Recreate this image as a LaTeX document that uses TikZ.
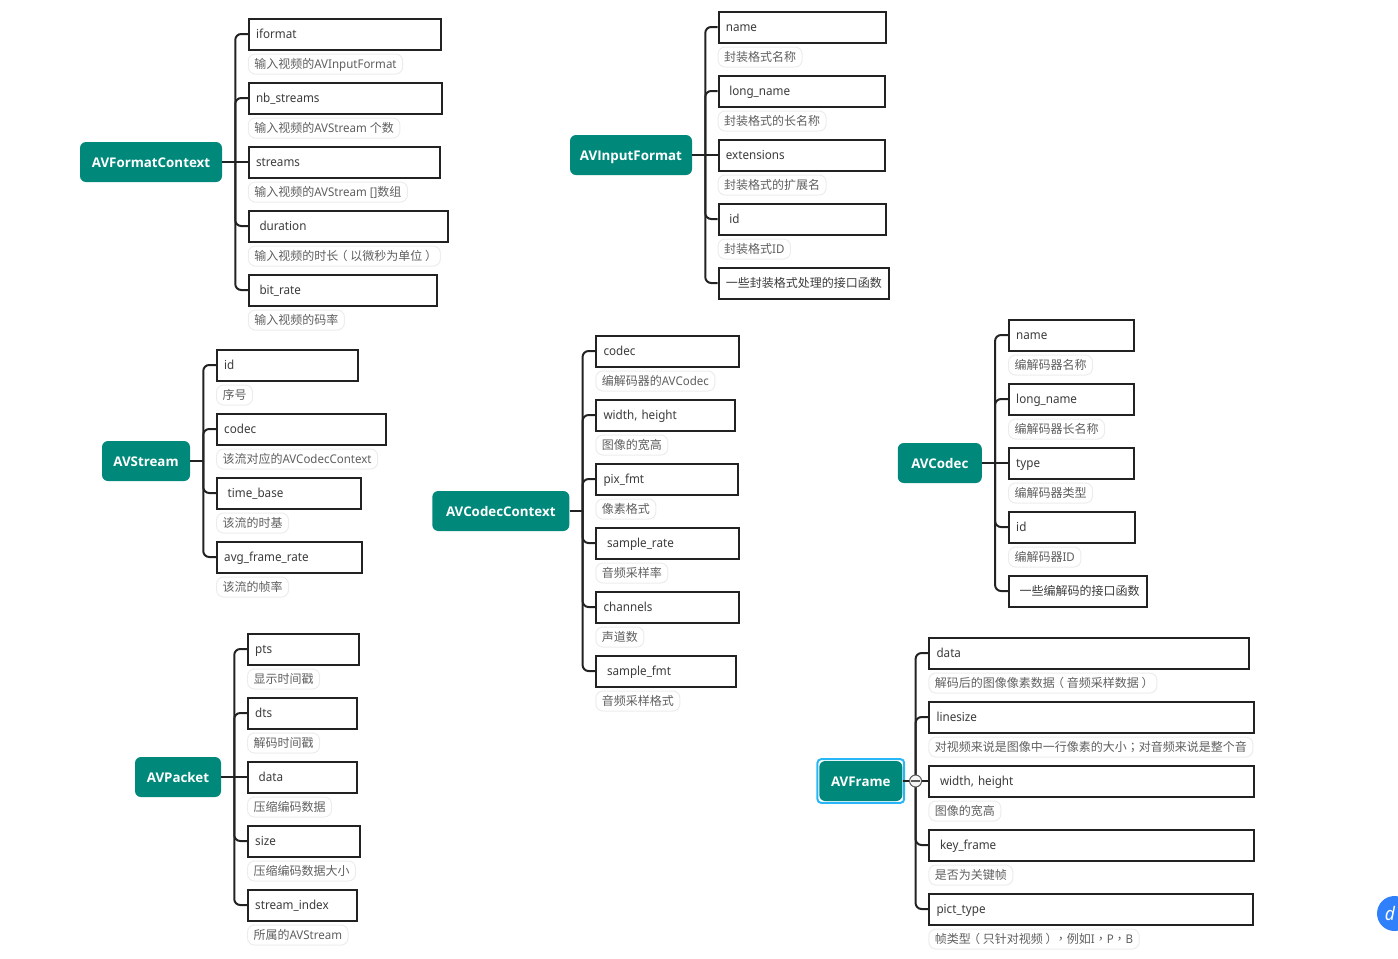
\documentclass[tikz,border=0pt]{standalone}
\usepackage{fontspec}
\setmainfont{Noto Sans}[FakeStretch=0.94]
\newfontfamily\notefont{Noto Sans}[FakeStretch=0.96]
\newfontfamily\topicfont{Open Sans}
\newfontfamily\cjk{Noto Sans CJK SC}
\newfontfamily\cjktw{Noto Sans CJK TC}
\newcommand{\fwopen}{\hspace*{-2pt}{\cjk （}\hspace*{2pt}}
\newcommand{\fwclose}{\hspace*{2pt}{\cjk ）}\hspace*{-2pt}}
\usetikzlibrary{positioning,fit,calc}
\definecolor{rootcol}{RGB}{0,137,123}
\definecolor{linecol}{RGB}{34,34,34}
\definecolor{fieldtxt}{RGB}{60,60,60}
\definecolor{notetxt}{RGB}{95,95,95}
\definecolor{notecol}{RGB}{236,236,236}
\definecolor{selcol}{RGB}{41,182,246}
\definecolor{badgecol}{RGB}{47,128,250}

\begin{document}
\begin{tikzpicture}[
  x=0.75pt, y=-0.75pt,
  %% teal topic block  \node[rootbox=142]{...}
  rootbox/.style={
    fill=rootcol, text=white, rounded corners=4.5pt,
    minimum width=#1*0.75pt, minimum height=30pt,
    inner sep=0pt, text height=8.5pt, text depth=1pt,
    font=\topicfont\fontsize{10}{12}\bfseries\selectfont
  },
  %% black framed field, argument is its outer width
  fieldbox/.style={
    draw=linecol, line width=1.5pt, fill=white, anchor=west, xshift=-0.5pt,
    text=fieldtxt, text width=(#1-14)*0.75pt-1.3pt, align=left,
    inner xsep=5.4pt, inner ysep=0pt, minimum height=23.25pt,
    text height=8.4pt, text depth=1.6pt,
    font=\fontsize{9.3}{11}\selectfont
  },
  %% field holding chinese text only
  cjkfield/.style={font=\cjk\fontsize{9}{11}\selectfont},
  %% grey pill under a field
  notebox/.style={
    draw=notecol, line width=0.75pt, text=notetxt,
    rounded corners=5.25pt, inner xsep=4.5pt, inner ysep=0pt,
    minimum height=15pt, text height=7.8pt, text depth=1.3pt,
    font=\notefont\fontsize{9}{11}\selectfont
  },
  notepos/.style={below right=2.25pt and 0pt of #1.south west},
  %% connectors
  link/.style={draw=linecol, line width=1.5pt},
  branch/.style={link, rounded corners=4.5pt},
]
\useasboundingbox (0,0) rectangle (1398,958);

%%── AVFormatContext ─────────────────────────────────────────────────────────
\node[rootbox=142] (fmtroot) at (151,162) {AVFormatContext};
\coordinate (fmtbus) at ($(fmtroot.east)+(13,0)$);

\node[fieldbox=193] (fmt1) at (248.5,34) {iformat};
\node[notebox, notepos=fmt1] (fmtn1) {{\cjk 输入视频的}AVInputFormat};
\node[fieldbox=194] (fmt2) at (248.5,98) {nb\_streams};
\node[notebox, notepos=fmt2] (fmtn2) {{\cjk 输入视频的}AVStream {\cjk 个数}};
\node[fieldbox=192.5] (fmt3) at (248.5,162) {streams};
\node[notebox, notepos=fmt3] (fmtn3) {{\cjk 输入视频的}AVStream []{\cjk 数组}};
\node[fieldbox=200.5] (fmt4) at (248.5,226) {\hspace*{2.6pt}duration};
\node[notebox, notepos=fmt4] (fmtn4) {{\cjk 输入视频的时长\fwopen 以微秒为单位\fwclose}};
\node[fieldbox=189.5] (fmt5) at (248.5,290) {\hspace*{2.6pt}bit\_rate};
\node[notebox, notepos=fmt5] (fmtn5) {{\cjk 输入视频的码率}};

\draw[branch] (fmtbus) |- (fmt1.west);
\draw[branch] (fmtbus) |- (fmt2.west);
\draw[link]   (fmtroot.east) -- (fmt3.west);
\draw[branch] (fmtbus) |- (fmt4.west);
\draw[branch] (fmtbus) |- (fmt5.west);

%%── AVInputFormat ───────────────────────────────────────────────────────────
\node[rootbox=122] (inroot) at (631,155) {AVInputFormat};
\coordinate (inbus) at ($(inroot.east)+(13,0)$);

\node[fieldbox=168.4] (in1) at (718.3,27) {name};
\node[notebox, notepos=in1] (inn1) {{\cjk 封装格式名称}};
\node[fieldbox=167.4] (in2) at (718.3,91) {\hspace*{2.6pt}long\_name};
\node[notebox, notepos=in2] (inn2) {{\cjk 封装格式的长名称}};
\node[fieldbox=167.4] (in3) at (718.3,155) {extensions};
\node[notebox, notepos=in3] (inn3) {{\cjk 封装格式的扩展名}};
\node[fieldbox=168.4] (in4) at (718.3,219) {\hspace*{2.6pt}id};
\node[notebox, notepos=in4] (inn4) {{\cjk 封装格式}ID};
\node[fieldbox=171.7, cjkfield] (in5) at (718.3,283) {一些封装格式处理的接口函数};

\draw[branch] (inbus) |- (in1.west);
\draw[branch] (inbus) |- (in2.west);
\draw[link]   (inroot.east) -- (in3.west);
\draw[branch] (inbus) |- (in4.west);
\draw[branch] (inbus) |- (in5.west);

%%── AVStream ────────────────────────────────────────────────────────────────
\node[rootbox=88] (stroot) at (146,461) {AVStream};
\coordinate (stbus) at ($(stroot.east)+(13,0)$);

\node[fieldbox=142] (st1) at (216.7,365) {id};
\node[notebox, notepos=st1] (stn1) {{\cjk 序号}};
\node[fieldbox=170] (st2) at (216.7,429) {codec};
\node[notebox, notepos=st2] (stn2) {{\cjk 该流对应的}AVCodecContext};
\node[fieldbox=145.3] (st3) at (216.7,493) {\hspace*{2.6pt}time\_base};
\node[notebox, notepos=st3] (stn3) {{\cjk 该流的时基}};
\node[fieldbox=146.6] (st4) at (216.7,557) {avg\_frame\_rate};
\node[notebox, notepos=st4] (stn4) {{\cjk 该流的帧率}};

\draw[link]   (stroot.east) -- (stbus);
\draw[branch] (stbus) |- (st1.west);
\draw[branch] (stbus) |- (st2.west);
\draw[branch] (stbus) |- (st3.west);
\draw[branch] (stbus) |- (st4.west);

%%── AVCodecContext ──────────────────────────────────────────────────────────
\node[rootbox=137] (ctxroot) at (500.8,511) {AVCodecContext};
\coordinate (ctxbus) at ($(ctxroot.east)+(13,0)$);

\node[fieldbox=143.7] (ctx1) at (596,351) {codec};
\node[notebox, notepos=ctx1] (ctxn1) {{\cjk 编解码器的}AVCodec};
\node[fieldbox=139.7] (ctx2) at (596,415) {width, height};
\node[notebox, notepos=ctx2] (ctxn2) {{\cjk 图像的宽高}};
\node[fieldbox=142.7] (ctx3) at (596,479) {pix\_fmt};
\node[notebox, notepos=ctx3] (ctxn3) {{\cjk 像素格式}};
\node[fieldbox=144.3] (ctx4) at (596,543) {\hspace*{2.6pt}sample\_rate};
\node[notebox, notepos=ctx4] (ctxn4) {{\cjk 音频采样率}};
\node[fieldbox=143.7] (ctx5) at (596,607) {channels};
\node[notebox, notepos=ctx5] (ctxn5) {{\cjk 声道数}};
\node[fieldbox=140.7] (ctx6) at (596,671) {\hspace*{2.6pt}sample\_fmt};
\node[notebox, notepos=ctx6] (ctxn6) {{\cjk 音频采样格式}};

\draw[link]   (ctxroot.east) -- (ctxbus);
\draw[branch] (ctxbus) |- (ctx1.west);
\draw[branch] (ctxbus) |- (ctx2.west);
\draw[branch] (ctxbus) |- (ctx3.west);
\draw[branch] (ctxbus) |- (ctx4.west);
\draw[branch] (ctxbus) |- (ctx5.west);
\draw[branch] (ctxbus) |- (ctx6.west);

%%── AVCodec ─────────────────────────────────────────────────────────────────
\node[rootbox=84] (codroot) at (939.8,463) {AVCodec};
\coordinate (codbus) at ($(codroot.east)+(13,0)$);

\node[fieldbox=126.6] (cod1) at (1008.7,335) {name};
\node[notebox, notepos=cod1] (codn1) {{\cjk 编解码器名称}};
\node[fieldbox=126.6] (cod2) at (1008.7,399) {long\_name};
\node[notebox, notepos=cod2] (codn2) {{\cjk 编解码器长名称}};
\node[fieldbox=126.6] (cod3) at (1008.7,463) {type};
\node[notebox, notepos=cod3] (codn3) {{\cjk 编解码器类型}};
\node[fieldbox=127.3] (cod4) at (1008.7,527) {id};
\node[notebox, notepos=cod4] (codn4) {{\cjk 编解码器}ID};
\node[fieldbox=139.6, cjkfield] (cod5) at (1008.7,591) {\hspace*{2.6pt}一些编解码的接口函数};

\draw[branch] (codbus) |- (cod1.west);
\draw[branch] (codbus) |- (cod2.west);
\draw[link]   (codroot.east) -- (cod3.west);
\draw[branch] (codbus) |- (cod4.west);
\draw[branch] (codbus) |- (cod5.west);

%%── AVPacket ────────────────────────────────────────────────────────────────
\node[rootbox=86] (pktroot) at (178,777) {AVPacket};
\coordinate (pktbus) at ($(pktroot.east)+(13,0)$);

\node[fieldbox=112.3] (pkt1) at (247.7,649) {pts};
\node[notebox, notepos=pkt1] (pktn1) {{\cjk 显示时间戳}};
\node[fieldbox=110] (pkt2) at (247.7,713) {dts};
\node[notebox, notepos=pkt2] (pktn2) {{\cjk 解码时间戳}};
\node[fieldbox=110] (pkt3) at (247.7,777) {\hspace*{2.6pt}data};
\node[notebox, notepos=pkt3] (pktn3) {{\cjk 压缩编码数据}};
\node[fieldbox=113] (pkt4) at (247.7,841) {size};
\node[notebox, notepos=pkt4] (pktn4) {{\cjk 压缩编码数据大小}};
\node[fieldbox=110.6] (pkt5) at (247.7,905) {stream\_index};
\node[notebox, notepos=pkt5] (pktn5) {{\cjk 所属的}AVStream};

\draw[branch] (pktbus) |- (pkt1.west);
\draw[branch] (pktbus) |- (pkt2.west);
\draw[link]   (pktroot.east) -- (pkt3.west);
\draw[branch] (pktbus) |- (pkt4.west);
\draw[branch] (pktbus) |- (pkt5.west);

%%── AVFrame (selected topic, with its fold button) ──────────────────────────
\node[rootbox=83] (frmroot) at (860.8,781) {AVFrame};
\node[draw=selcol, line width=1.5pt, rounded corners=3pt, inner sep=1.25pt,
      fit=(frmroot)] (frmsel) {};
\coordinate (frmbus) at ($(frmroot.east)+(13,0)$);

\node[fieldbox=320.7] (frm1) at (929,653) {data};
\node[notebox, notepos=frm1] (frmn1) {{\cjk 解码后的图像像素数据\fwopen 音频采样数据\fwclose}};
\node[fieldbox=325.6] (frm2) at (929,717) {linesize};
\node[notebox, notepos=frm2] (frmn2) {{\cjk 对视频来说是图像中一行像素的大小{\cjktw ；}对音频来说是整个音}};
\node[fieldbox=325.6] (frm3) at (929,781) {\hspace*{2.6pt}width, height};
\node[notebox, notepos=frm3] (frmn3) {{\cjk 图像的宽高}};
\node[fieldbox=325.6] (frm4) at (929,845) {\hspace*{2.6pt}key\_frame};
\node[notebox, notepos=frm4] (frmn4) {{\cjk 是否为关键帧}};
\node[fieldbox=324.5] (frm5) at (929,909) {pict\_type};
\node[notebox, notepos=frm5] (frmn5) {{\cjk 帧类型\fwopen 只针对视频\fwclose{\cjktw ，}例如}I{\cjktw ，}P{\cjktw ，}B};

\draw[branch] (frmbus) |- (frm1.west);
\draw[branch] (frmbus) |- (frm2.west);
\draw[link]   (frmroot.east) -- (frm3.west);
\draw[branch] (frmbus) |- (frm4.west);
\draw[branch] (frmbus) |- (frm5.west);

\node[circle, draw=black!65, fill=black!4, line width=0.75pt, minimum size=9pt,
      inner sep=0pt] (frmfold) at (frmbus) {};
\draw[black!65, line width=1pt, shorten <=1.5pt, shorten >=1.5pt]
  (frmfold.west) -- (frmfold.east);

%%── corner badge, cut by the page edge ──────────────────────────────────────
\node[circle, fill=badgecol, text=white, minimum size=26.25pt, inner sep=0pt,
      font=\fontsize{14}{14}\bfseries\itshape\selectfont] (badge)
  at (1394.5,913.5) {d\hspace*{7pt}};

\end{tikzpicture}
\end{document}
